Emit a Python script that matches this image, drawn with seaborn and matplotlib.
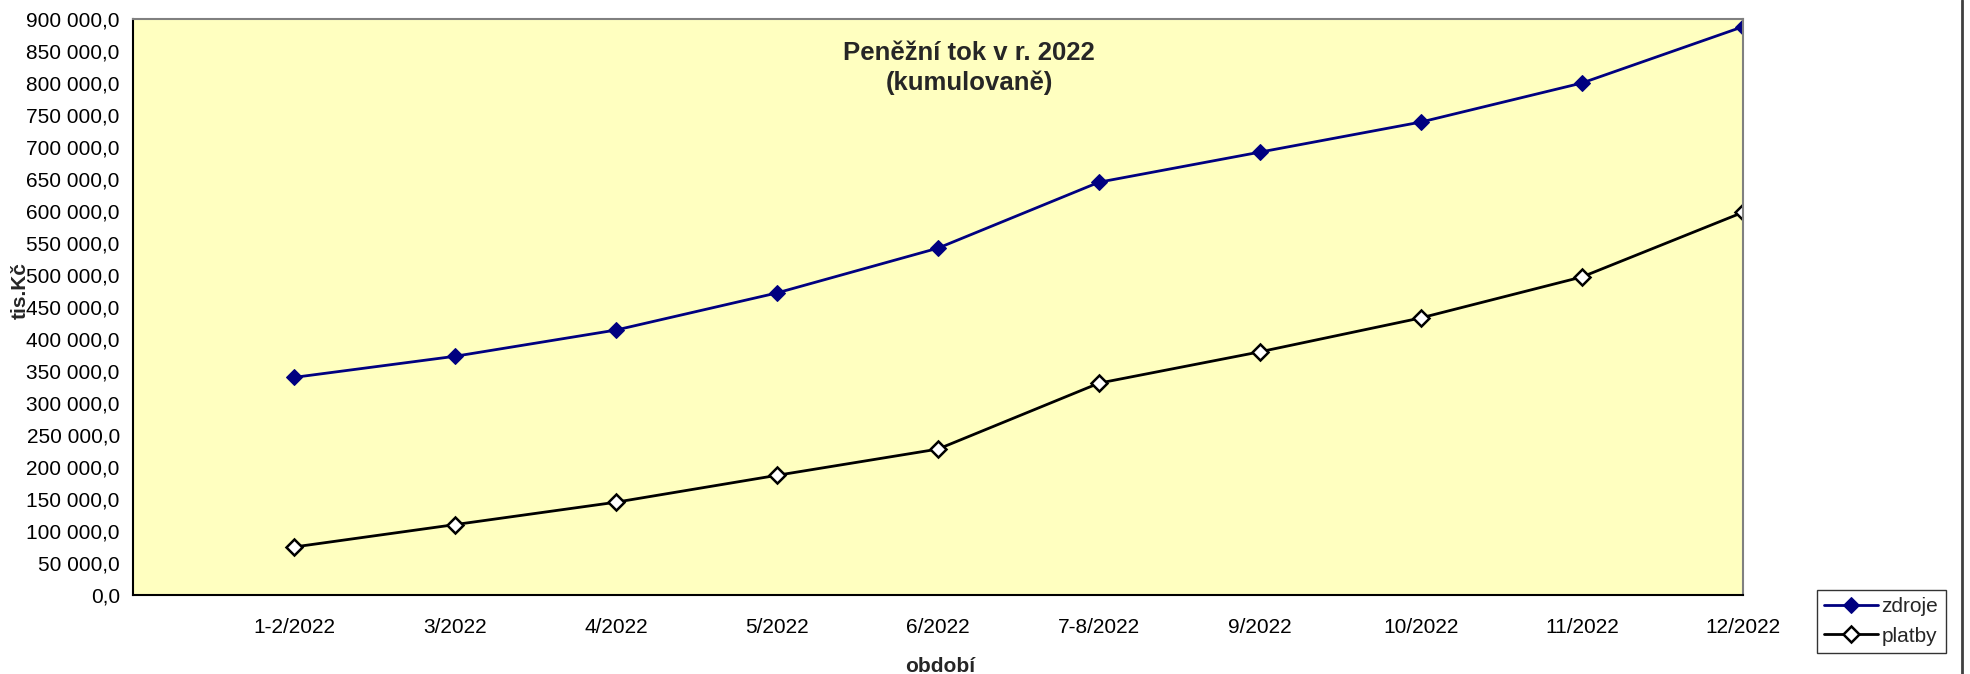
import pandas as pd
import matplotlib.pyplot as plt
import seaborn as sns
from matplotlib.ticker import FuncFormatter, MultipleLocator

sns.set_style("white")
plt.rcParams["font.family"] = ["Liberation Sans", "DejaVu Sans"]

# data (tis. Kč, cumulative)
obdobi = ["1-2/2022", "3/2022", "4/2022", "5/2022", "6/2022",
          "7-8/2022", "9/2022", "10/2022", "11/2022", "12/2022"]
zdroje = [340000, 373000, 414000, 472000, 542000,
          645000, 692000, 739000, 800000, 888000]
platby = [75000, 110000, 145000, 187000, 228000,
          331000, 380000, 433000, 497000, 598000]

df = pd.DataFrame({"období": obdobi, "zdroje": zdroje, "platby": platby})

fig = plt.figure(figsize=(19.70, 6.74), dpi=100)
ax = fig.add_axes([133 / 1970, 79 / 674, (1743 - 133) / 1970, (595 - 19) / 674])
ax.set_facecolor("#FFFFC0")

sns.lineplot(data=df, x="období", y="zdroje", ax=ax, color="#000080", lw=2,
             marker="D", markersize=8, markerfacecolor="#000080",
             markeredgecolor="#000080", label="zdroje", sort=False)
sns.lineplot(data=df, x="období", y="platby", ax=ax, color="black", lw=2,
             marker="D", markersize=8, markerfacecolor="white",
             markeredgecolor="black", markeredgewidth=1.8, label="platby", sort=False)

ax.set_xlim(-1, len(obdobi) - 1)
ax.set_ylim(0, 900000)
ax.yaxis.set_major_locator(MultipleLocator(50000))
ax.yaxis.set_major_formatter(
    FuncFormatter(lambda v, p: f"{v:,.1f}".replace(",", " ").replace(".", ",")))
ax.set_xticks(range(-1, len(obdobi)))
ax.set_xticklabels([""] + obdobi)
ax.tick_params(axis="both", direction="inout", length=9, width=1.2,
               labelsize=15, colors="black", pad=5)
ax.tick_params(axis="x", pad=12)

for side in ["left", "bottom"]:
    ax.spines[side].set_color("black")
    ax.spines[side].set_linewidth(1.5)
for side in ["top", "right"]:
    ax.spines[side].set_color("#808080")
    ax.spines[side].set_linewidth(1.5)

ax.set_xlabel("")
ax.set_ylabel("")
fig.text(940 / 1970, 1 - 666 / 674, "období", ha="center", va="center",
         fontsize=15, fontweight="bold")
fig.text(20 / 1970, 1 - 291 / 674, "tis.Kč", ha="center", va="center",
         rotation=90, fontsize=15, fontweight="bold")
fig.text(969 / 1970, 1 - 68 / 674, "Peněžní tok v r. 2022\n(kumulovaně)",
         ha="center", va="center", fontsize=18.5, fontweight="bold", linespacing=1.3)

ax.get_legend().remove()
h, l = ax.get_legend_handles_labels()
leg = fig.legend(h, l, loc="upper left", bbox_to_anchor=(1817 / 1970, 1 - 590 / 674),
                 fontsize=15, frameon=True, fancybox=False, handlelength=2.6,
                 borderpad=0.35, labelspacing=0.5, handletextpad=0.15,
                 borderaxespad=0)
leg.get_frame().set_edgecolor("black")
leg.get_frame().set_linewidth(1)

# right frame line of the chart area
fig.add_artist(plt.Line2D([1962 / 1970, 1962 / 1970], [0, 1],
                          transform=fig.transFigure, color="#404040", lw=2))

fig.savefig("out.png", dpi=100)
